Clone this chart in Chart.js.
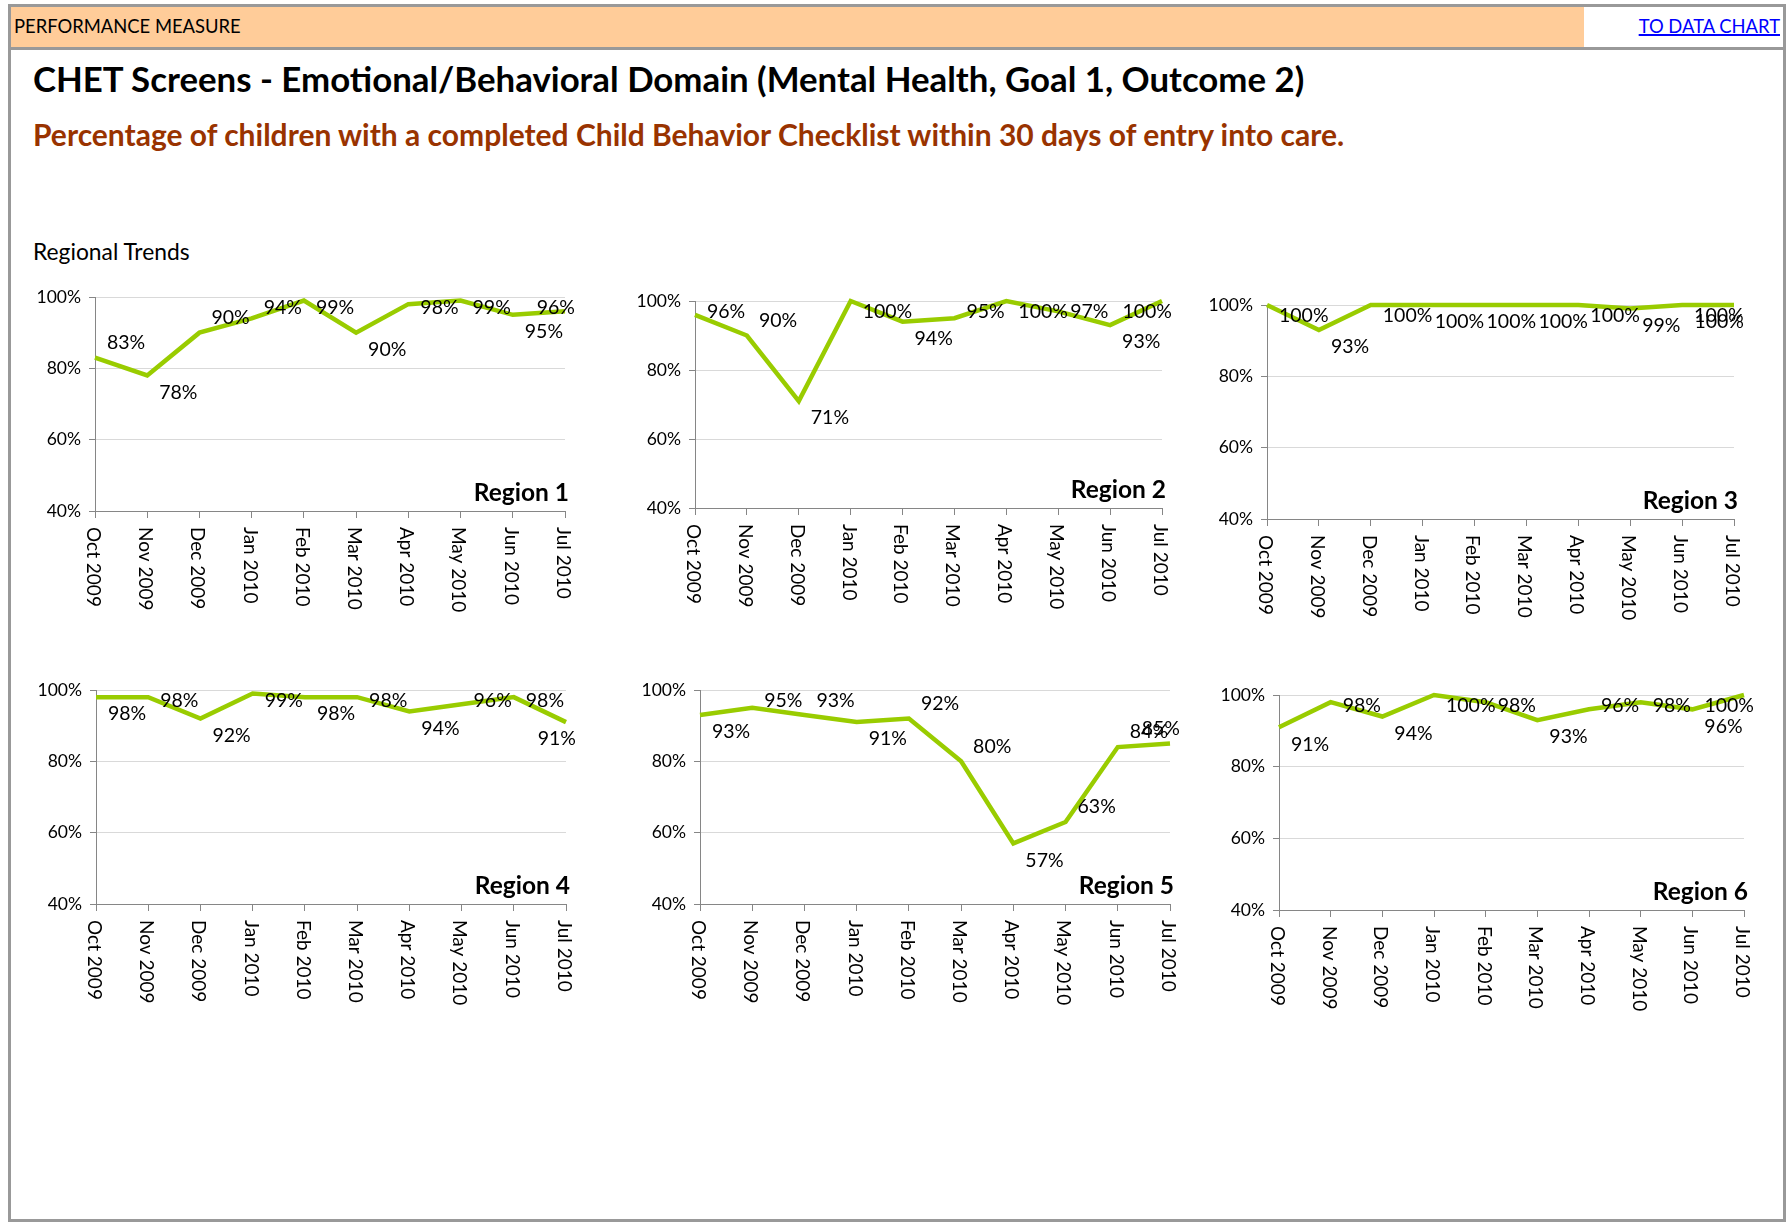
<!DOCTYPE html>
<html>
<head>
<meta charset="utf-8">
<script src="https://cdn.jsdelivr.net/npm/chart.js@4.4.1/dist/chart.umd.min.js"></script>
<style>
  body { margin: 0; background: #fff; font-family: Lato, sans-serif; }
  #page { position: relative; width: 1786px; height: 1225px; overflow: hidden; }
  #frame { position: absolute; left: 8px; top: 4px; width: 1772px; height: 1212px; border: 3px solid #999; }
  #band { position: absolute; left: 11px; top: 7px; width: 1573px; height: 40px; background: #ffcc99; }
  #rule { position: absolute; left: 11px; top: 47px; width: 1772px; height: 3px; background: #999; }
  .txt { position: absolute; line-height: 1; white-space: nowrap; color: #000; }
  canvas { position: absolute; }
</style>
</head>
<body>
<div id="page">
  <div id="frame"></div>
  <div id="band"></div>
  <div id="rule"></div>
  <div class="txt" style="left:14px; top:17px; font-size:18.4px;">PERFORMANCE MEASURE</div>
  <div class="txt" style="right:6px; top:17px; font-size:18.4px;"><a href="#" style="color:#0000ff; text-decoration-thickness:2px;">TO DATA CHART</a></div>
  <div class="txt" style="left:33px; top:62px; font-size:34.8px; font-weight:bold;">CHET Screens - Emotional/Behavioral Domain (Mental Health, Goal 1, Outcome 2)</div>
  <div class="txt" style="left:33px; top:119px; font-size:30px; font-weight:bold; color:#993300;">Percentage of children with a completed Child Behavior Checklist within 30 days of entry into care.</div>
  <div class="txt" style="left:33px; top:240px; font-size:22.8px;">Regional Trends</div>
</div>

<script>
// Data
const months = ['Oct 2009', 'Nov 2009', 'Dec 2009', 'Jan 2010', 'Feb 2010', 'Mar 2010', 'Apr 2010', 'May 2010', 'Jun 2010', 'Jul 2010'];
const region1 = [83, 78, 90, 94, 99, 90, 98, 99, 95, 96];
const region2 = [96, 90, 71, 100, 94, 95, 100, 97, 93, 100];
const region3 = [100, 93, 100, 100, 100, 100, 100, 99, 100, 100];
const region4 = [98, 98, 92, 99, 98, 98, 94, 96, 98, 91];
const region5 = [93, 95, 93, 91, 92, 80, 57, 63, 84, 85];
const region6 = [91, 98, 94, 100, 98, 93, 96, 98, 96, 100];
const regionNames = ['Region 1', 'Region 2', 'Region 3', 'Region 4', 'Region 5', 'Region 6'];
const yTicks = [40, 60, 80, 100];

// plot area of every small chart on the page (left, right, top, bottom)
const boxes = [
  { l: 95, r: 565, t: 297, b: 511 },
  { l: 695, r: 1162, t: 301, b: 508 },
  { l: 1267, r: 1734, t: 305, b: 519 },
  { l: 96, r: 566, t: 690, b: 904 },
  { l: 700, r: 1170, t: 690, b: 904 },
  { l: 1279, r: 1744, t: 695, b: 910 }
];
const allRegions = [region1, region2, region3, region4, region5, region6];

Chart.defaults.font.family = 'Lato';
Chart.defaults.color = '#000';

const padL = 70, padT = 24, padR = 36, padB = 120;

// draws value labels, the region name and the rotated month labels
const extraText = {
  id: 'extraText',
  afterDatasetsDraw(chart, args, opts) {
    const { ctx, chartArea } = chart;
    const meta = chart.getDatasetMeta(0);
    const vals = chart.data.datasets[0].data;
    ctx.save();
    ctx.font = '19.5px Lato';
    ctx.fillStyle = '#000';
    ctx.textBaseline = 'middle';
    ctx.textAlign = 'left';
    meta.data.forEach((pt, i) => {
      const v = vals[i];
      const nb = [vals[i - 1], vals[i + 1]].filter(n => n !== undefined);
      const below = v <= Math.min(...nb);
      const text = v + '%';
      const w = ctx.measureText(text).width;
      let x = pt.x + 12;
      if (x + w > chartArea.right + 10) x = chartArea.right + 10 - w;
      let y = below ? pt.y + 17 : pt.y - 15;
      if (y < chartArea.top + 11) y = chartArea.top + 11;
      ctx.fillText(text, x, y);
    });

    ctx.font = 'bold 24.5px Lato';
    ctx.textAlign = 'right';
    ctx.textBaseline = 'alphabetic';
    ctx.fillText(opts.name, chartArea.right + 4, chartArea.bottom - 10);

    const xs = chart.scales.x;
    ctx.font = '19px Lato';
    ctx.textAlign = 'left';
    ctx.textBaseline = 'middle';
    chart.data.labels.forEach((lab, i) => {
      ctx.save();
      ctx.translate(xs.getPixelForTick(i) - 2, chartArea.bottom + 16);
      ctx.rotate(Math.PI / 2);
      ctx.fillText(lab, 0, 0);
      ctx.restore();
    });
    ctx.restore();
  }
};

const page = document.getElementById('page');

allRegions.forEach((vals, k) => {
  const box = boxes[k];
  const cv = document.createElement('canvas');
  cv.width = box.r - box.l + padL + padR;
  cv.height = box.b - box.t + padT + padB;
  cv.style.left = (box.l - padL) + 'px';
  cv.style.top = (box.t - padT) + 'px';
  page.appendChild(cv);

  new Chart(cv, {
    type: 'line',
    data: {
      labels: months,
      datasets: [{
        data: vals,
        borderColor: '#99cc00',
        borderWidth: 4.5,
        pointRadius: 0,
        tension: 0,
        clip: false
      }]
    },
    options: {
      responsive: false,
      animation: false,
      devicePixelRatio: 1,
      events: [],
      layout: { padding: { top: padT, right: padR, left: 0, bottom: 0 } },
      plugins: {
        legend: { display: false },
        tooltip: { enabled: false },
        extraText: { name: regionNames[k] }
      },
      scales: {
        x: {
          offset: false,
          grid: { drawOnChartArea: false, drawTicks: true, tickLength: 7, color: '#868686', offset: false },
          border: { color: '#868686' },
          ticks: { display: false },
          afterFit: s => { s.height = padB; }
        },
        y: {
          min: 40,
          max: 100,
          afterBuildTicks: s => { s.ticks = yTicks.map(v => ({ value: v })); },
          grid: { color: '#d9d9d9', tickColor: '#868686', tickLength: 6 },
          border: { color: '#868686' },
          ticks: { callback: v => v + '%', font: { size: 17.5 }, color: '#000', padding: 8 },
          afterFit: s => { s.width = padL; }
        }
      }
    },
    plugins: [extraText]
  });
});
</script>
</body>
</html>
